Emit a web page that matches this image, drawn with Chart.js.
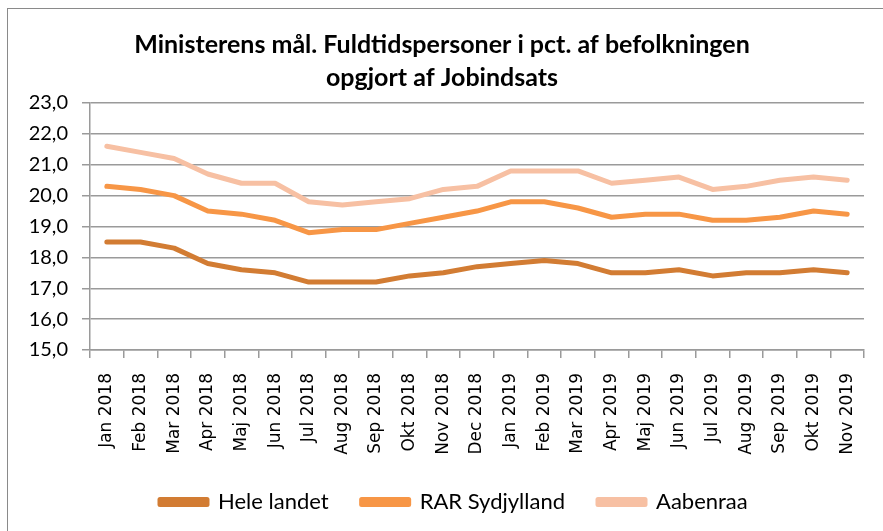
<!DOCTYPE html>
<html>
<head>
<meta charset="utf-8">
<script src="https://cdn.jsdelivr.net/npm/chart.js@4"></script>
<style>
  html, body { margin: 0; padding: 0; background: #fff; }
  #wrap { position: relative; width: 883px; height: 531px; overflow: hidden; }
  #frame { position: absolute; left: 7px; top: 8px; width: 1000px; height: 1000px;
           border: 1.5px solid #8a8a8a; pointer-events: none; }
</style>
</head>
<body>
<div id="wrap">
  <canvas id="trendChart" width="883" height="531"></canvas>
  <div id="frame"></div>
</div>
<script>
const months = [
  'Jan 2018', 'Feb 2018', 'Mar 2018', 'Apr 2018', 'Maj 2018', 'Jun 2018',
  'Jul 2018', 'Aug 2018', 'Sep 2018', 'Okt 2018', 'Nov 2018', 'Dec 2018',
  'Jan 2019', 'Feb 2019', 'Mar 2019', 'Apr 2019', 'Maj 2019', 'Jun 2019',
  'Jul 2019', 'Aug 2019', 'Sep 2019', 'Okt 2019', 'Nov 2019'
];

const heleLandet = [18.5, 18.5, 18.3, 17.8, 17.6, 17.5, 17.2, 17.2, 17.2, 17.4, 17.5, 17.7,
                    17.8, 17.9, 17.8, 17.5, 17.5, 17.6, 17.4, 17.5, 17.5, 17.6, 17.5];
const rarSydjylland = [20.3, 20.2, 20.0, 19.5, 19.4, 19.2, 18.8, 18.9, 18.9, 19.1, 19.3, 19.5,
                       19.8, 19.8, 19.6, 19.3, 19.4, 19.4, 19.2, 19.2, 19.3, 19.5, 19.4];
const aabenraa = [21.6, 21.4, 21.2, 20.7, 20.4, 20.4, 19.8, 19.7, 19.8, 19.9, 20.2, 20.3,
                  20.8, 20.8, 20.8, 20.4, 20.5, 20.6, 20.2, 20.3, 20.5, 20.6, 20.5];

const seriesNames = ['Hele landet', 'RAR Sydjylland', 'Aabenraa'];
const colors = ['#d27c33', '#f79646', '#f7c0a3'];

const titleLines = ['Ministerens mål. Fuldtidspersoner i pct. af befolkningen', 'opgjort af Jobindsats'];

// nudge title and legend to where the Excel chart puts them
const blockShift = {
  id: 'blockShift',
  afterLayout(chart) {
    chart.titleBlock.left += 20;
    chart.legend.left += 37;
    chart.legend.top -= 8;
    chart.legend.bottom -= 8;
  }
};

const datasets = [heleLandet, rarSydjylland, aabenraa].map((values, i) => ({
  label: seriesNames[i],
  data: values,
  borderColor: colors[i],
  backgroundColor: colors[i],
  borderWidth: 5,
  pointRadius: 0,
  borderJoinStyle: 'round',
  borderCapStyle: 'round',
  tension: 0
}));

new Chart(document.getElementById('trendChart').getContext('2d'), {
  type: 'line',
  data: { labels: months, datasets },
  plugins: [blockShift],
  options: {
    responsive: false,
    animation: false,
    layout: { padding: { left: 0, right: 19, top: 0, bottom: 0 } },
    plugins: {
      title: {
        display: true,
        text: titleLines,
        color: '#000',
        font: { family: 'Lato, sans-serif', size: 25, weight: 'bold', lineHeight: 1.32 },
        padding: { top: 28, bottom: 9 }
      },
      legend: {
        position: 'bottom',
        align: 'start',
        fullSize: false,
        labels: {
          color: '#000',
          font: { family: 'Lato, sans-serif', size: 22 },
          boxWidth: 47,
          boxHeight: 5,
          padding: 33
        }
      },
      tooltip: { enabled: false }
    },
    scales: {
      x: {
        offset: true,
        grid: { offset: true, drawOnChartArea: false, drawTicks: true, tickLength: 8, color: '#9a9a9a', lineWidth: 1.5 },
        border: { color: '#9a9a9a', width: 1.5 },
        ticks: {
          color: '#000',
          font: { family: "'DejaVu Sans', Verdana, sans-serif", size: 17 },
          minRotation: 90,
          maxRotation: 90,
          autoSkip: false,
          padding: 15
        },
        afterFit(scale) { scale.height = 116; }
      },
      y: {
        min: 15,
        max: 23,
        grid: { color: '#9a9a9a', lineWidth: 1.5, tickLength: 8 },
        border: { color: '#9a9a9a', width: 1.5 },
        ticks: {
          stepSize: 1,
          color: '#000',
          font: { family: 'Lato, sans-serif', size: 20 },
          padding: 14,
          callback: v => v.toFixed(1).replace('.', ',')
        },
        afterFit(scale) { scale.width = 90; }
      }
    }
  }
});
</script>
</body>
</html>
